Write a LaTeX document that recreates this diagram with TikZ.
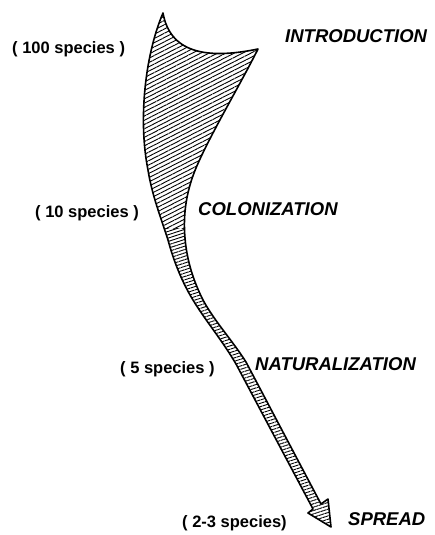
\documentclass[tikz,border=0pt]{standalone}
\usepackage{fontspec}
\setmainfont{Liberation Sans}
\usetikzlibrary{patterns.meta}

\begin{document}
\begin{tikzpicture}[
    x=1pt, y=-1pt,
% Text and shape styles
    stage/.style={font=\fontsize{18.5}{20}\selectfont\bfseries\itshape, inner sep=0pt},
    species/.style={font=\fontsize{16.5}{18}\selectfont\bfseries, inner sep=0pt},
    outline/.style={line width=1.6pt, line join=round},
    widehatch/.style={pattern={Lines[angle=27, distance=3.8pt, line width=0.9pt]}},
    bandhatch/.style={pattern={Lines[angle=18, distance=3.2pt, line width=0.9pt]}}
]
\useasboundingbox (0,0) rectangle (435,535);

% 1. Key points of the horn
\coordinate (tip) at (163,13);
\coordinate (corner) at (258,49);
\coordinate (headR) at (328,499);
\coordinate (headT) at (331,527);
\coordinate (headL) at (308,513);

% 2. Outline of the funnel (wide horn + narrowing band + arrow head)
\path[save path=\hornpath] (tip) .. controls (170,52) and (205,60) .. (corner)
    .. controls (240,85) and (210,135) .. (196,168)
    .. controls (186,192) and (183,215) .. (185,238)
    .. controls (187,262) and (194,282) .. (203,300)
    .. controls (215,322) and (232,340) .. (246,362)
    -- (321,504) -- (headR) -- (headT) -- (headL) -- (313,509)
    -- (236,364)
    .. controls (222,340) and (205,320) .. (193,300)
    .. controls (182,282) and (174,262) .. (168,240)
    .. controls (160,215) and (152,195) .. (148,170)
    .. controls (138,120) and (145,55) .. (tip) -- cycle;

% Hatching: oblique in the wide part, rungs in the band
\begin{scope}
  \clip (0,0) rectangle (435,228);
  \path[use path=\hornpath, widehatch];
\end{scope}
\begin{scope}
  \clip (0,228) rectangle (435,535);
  \path[use path=\hornpath, bandhatch];
\end{scope}
\draw[use path=\hornpath, outline];

% 3. Stages
\node[stage, anchor=base west] (introduction) at (285,43) {INTRODUCTION};
\node[stage, anchor=base west] (colonization) at (198,215) {COLONIZATION};
\node[stage, anchor=base west] (naturalization) at (255,370) {NATURALIZATION};
\node[stage, anchor=base west] (spread) at (348,525) {SPREAD};

% 4. Number of species
\node[species, anchor=base west] (sp100) at (12,53) {( 100 species )};
\node[species, anchor=base west] (sp10) at (35,217) {( 10 species )};
\node[species, anchor=base west] (sp5) at (120,373) {( 5 species )};
\node[species, anchor=base west] (sp23) at (182,527) {( 2-3 species)};

\end{tikzpicture}
\end{document}
